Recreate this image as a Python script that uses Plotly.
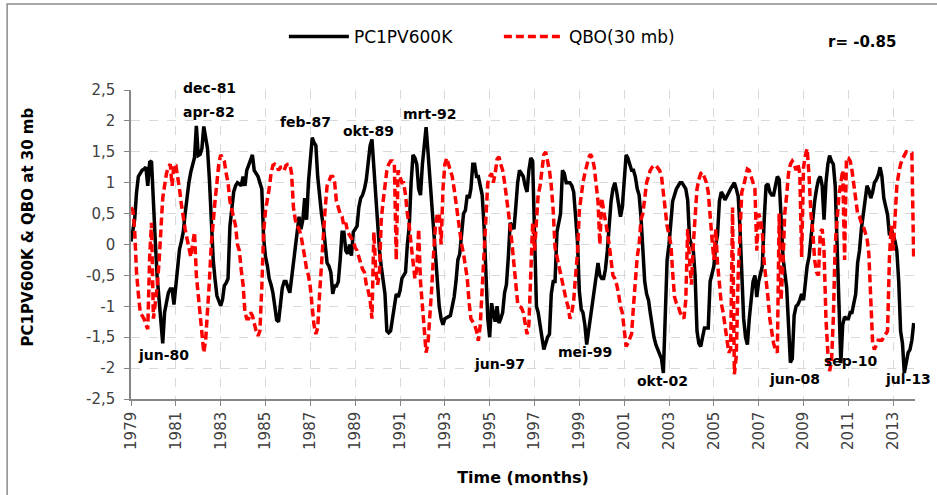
import pandas as pd
import plotly.graph_objects as go

# ---------------- data (monthly, Jan 1979 - Dec 2013) ----------------
start_month = "1979-01-01"
n_months = 420

pc1pv600k = [
    0.05, 0.2, 0.4, 0.84, 1.1, 1.15, 1.2, 1.22, 1.25, 0.95, 1.33, 1.35,      # 1979
    0.6, 0.05, -0.5, -0.9, -1.2, -1.6, -1.1, -0.9, -0.78, -0.72, -0.72, -0.97,  # 1980
    -0.67, -0.4, -0.08, 0.05, 0.2, 0.5, 0.8, 1.0, 1.17, 1.3, 1.41, 1.92,    # 1981
    1.44, 1.46, 1.55, 1.91, 1.7, 1.55, 1.06, 0.3, -0.24, -0.56, -0.83, -0.91,  # 1982
    -0.99, -0.89, -0.67, -0.62, -0.55, 0.3, 0.6, 0.85, 0.95, 1.0, 0.98, 0.95,  # 1983
    1.1, 0.95, 1.2, 1.3, 1.38, 1.45, 1.2, 1.15, 1.1, 1.0, 0.9, 0.1,          # 1984
    -0.2, -0.35, -0.55, -0.65, -0.78, -1.0, -1.22, -1.25, -1.0, -0.7, -0.6, -0.6,  # 1985
    -0.7, -0.78, -0.55, -0.3, -0.1, 0.2, 0.45, 0.25, 0.4, 0.75, 0.4, 1.0,    # 1986
    1.3, 1.73, 1.65, 1.6, 1.1, 0.75, 0.5, 0.3, 0.0, -0.3, -0.35, -0.45,      # 1987
    -0.8, -0.67, -0.67, -0.6, -0.25, 0.2, 0.2, -0.1, -0.15, 0.0, -0.18, 0.2,  # 1988
    0.25, 0.3, 0.6, 0.75, 0.8, 0.9, 1.05, 1.3, 1.6, 1.7, 1.2, 0.9,           # 1989
    0.3, -0.1, -0.35, -0.6, -0.8, -1.4, -1.43, -1.4, -1.2, -1.0, -0.8, -0.85,  # 1990
    -0.75, -0.55, -0.5, -0.45, 0.0, 0.3, 1.0, 1.45, 1.4, 1.3, 0.9, 0.8,      # 1991
    1.3, 1.6, 1.9, 1.5, 1.1, 0.8, 0.4, -0.05, -0.5, -1.0, -1.2, -1.3,        # 1992
    -1.2, -1.18, -1.17, -1.15, -1.0, -0.85, -0.6, -0.25, -0.15, 0.15, 0.5, 0.55,  # 1993
    0.8, 0.75, 0.9, 1.3, 1.3, 1.1, 1.1, 0.95, 0.8, 0.3, -0.5, -1.2,          # 1994
    -1.5, -0.95, -1.1, -1.25, -1.0, -1.27, -1.2, -1.1, -0.78, -0.65, -0.2, 0.35,  # 1995
    0.3, 0.25, 0.6, 1.0, 1.2, 1.15, 1.1, 0.95, 0.85, 1.2, 1.4, 1.35,         # 1996
    0.0, -1.0, -1.1, -1.3, -1.55, -1.7, -1.6, -1.5, -1.45, -0.8, -0.6, -0.6,  # 1997
    0.2, 0.4, 0.5, 1.2, 1.15, 1.0, 1.0, 1.0, 0.95, 0.85, 0.45, 0.05,         # 1998
    -0.75, -1.05, -1.1, -1.3, -1.62, -1.4, -1.1, -0.9, -0.7, -0.5, -0.3, -0.5,  # 1999
    -0.55, -0.55, -0.4, -0.1, 0.3, 0.7, 0.9, 1.0, 0.85, 0.6, 0.45, 0.6,      # 2000
    1.0, 1.45, 1.4, 1.3, 1.2, 1.2, 1.1, 0.9, 0.8, 0.45, 0.0, -0.6,           # 2001
    -0.8, -0.9, -1.1, -1.35, -1.5, -1.62, -1.7, -1.75, -1.85, -2.08, -1.2, -0.25,  # 2002
    0.0, 0.45, 0.7, 0.8, 0.9, 0.95, 1.0, 1.0, 0.95, 0.9, 0.72, 0.1,          # 2003
    0.0, -0.1, -0.5, -1.4, -1.6, -1.65, -1.5, -1.35, -1.35, -1.35, -0.6, -0.45,  # 2004
    -0.35, 0.0, 0.15, 0.7, 0.85, 0.8, 0.72, 0.78, 0.85, 0.9, 0.95, 1.0,      # 2005
    0.9, 0.78, 0.3, -0.4, -1.2, -1.5, -1.62, -1.2, -0.9, -0.6, -0.5, -0.85,  # 2006
    -0.6, -0.45, -0.35, 0.4, 0.95, 0.98, 0.85, 0.8, 0.8, 0.95, 1.1, 1.05,    # 2007
    0.3, -0.2, -0.45, -0.7, -1.3, -1.91, -1.85, -1.15, -1.0, -0.97, -0.9, -0.8,  # 2008
    -0.9, -0.6, -0.35, -0.2, 0.1, 0.5, 0.7, 0.9, 1.05, 1.1, 0.95, 0.4,       # 2009
    1.0, 1.3, 1.44, 1.35, 1.3, 0.95, 0.1, -0.9, -1.92, -1.3, -1.17, -1.2,    # 2010
    -1.2, -1.1, -1.1, -0.95, -0.8, -0.3, -0.1, 0.25, 0.5, 0.8, 0.95, 0.88,   # 2011
    0.75, 0.85, 1.0, 1.05, 1.12, 1.25, 1.1, 0.75, 0.6, 0.48, 0.15, 0.25,     # 2012
    0.15, 0.05, -0.1, -0.6, -1.4, -1.6, -2.08, -1.9, -1.75, -1.7, -1.55, -1.27,  # 2013
]

qbo_30mb = [
    0.6, 0.55, 0.25, -0.45, -0.8, -1.1, -1.15, -1.2, -1.3, -1.37, -0.2, 0.35,  # 1979
    -1.2, -0.95, -0.7, -0.3, 0.3, 0.75, 0.95, 1.15, 1.25, 1.3, 0.95, 1.3,    # 1980
    1.28, 1.1, 0.9, 0.65, 0.4, 0.25, 0.1, -0.05, -0.2, 0.0, 0.2, -0.5,       # 1981
    -0.85, -1.2, -1.5, -1.75, -1.55, -1.1, -0.6, 0.0, 0.4, 0.7, 1.0, 1.3,    # 1982
    1.45, 1.4, 1.35, 1.15, 1.0, 0.7, 0.55, 0.4, 0.3, 0.0, -0.1, -0.4,        # 1983
    -0.65, -1.1, -1.2, -1.2, -1.1, -1.15, -1.3, -1.4, -1.48, -1.4, -0.7, 0.2,  # 1984
    0.55, 0.7, 0.9, 1.15, 1.28, 1.3, 1.28, 1.2, 1.25, 1.25, 1.2, 1.28,       # 1985
    1.3, 1.3, 1.15, 0.6, 0.4, 0.3, 0.25, 0.15, 0.0, -0.2, -0.4, -0.5,        # 1986
    -0.7, -1.0, -1.3, -1.45, -1.35, -0.8, -0.3, 0.0, 0.6, 0.95, 1.05, 1.1,   # 1987
    1.1, 1.0, 0.7, 0.6, 0.5, 0.45, 0.3, 0.35, 0.2, 0.15, 0.1, 0.05,          # 1988
    -0.05, -0.1, -0.2, -0.3, -0.4, -0.45, -0.65, -0.75, -0.9, -1.2, 0.2, -0.4,  # 1989
    -0.65, -0.45, 0.4, 0.7, 0.95, 1.2, 1.3, 1.35, 1.35, 1.3, -0.25, 1.2,     # 1990
    1.1, 1.0, 1.0, 0.8, 0.5, 0.3, 0.0, -0.3, -0.55, -0.4, 0.25, -0.6,        # 1991
    -1.0, -1.4, -1.75, -1.6, -1.2, -0.7, -0.15, 0.3, 0.5, 0.5, 0.0, 0.9,     # 1992
    1.3, 1.4, 1.3, 1.2, 1.1, 0.9, 0.65, 0.4, 0.2, 0.0, -0.15, -0.35,         # 1993
    -0.55, -0.95, -1.2, -1.25, -1.3, -1.4, -1.56, -1.3, -0.7, -0.2, 0.6, 1.0,  # 1994
    1.1, 1.15, 1.0, 1.15, 1.38, 1.42, 1.3, 1.2, 1.0, 0.8, 0.55, 0.3,         # 1995
    0.0, -0.3, -0.6, -0.95, -1.0, -1.02, -1.1, -1.3, -1.45, -1.3, -0.5, 0.35,  # 1996
    -0.1, 0.3, 0.8, 0.95, 1.2, 1.45, 1.5, 1.35, 1.2, 0.95, 0.55, -0.05,      # 1997
    -0.2, -0.3, -0.45, -0.6, -0.75, -0.9, -1.0, -1.2, -1.1, -0.9, -0.5, -0.15,  # 1998
    0.55, 0.8, 1.0, 1.15, 1.3, 1.4, 1.46, 1.4, 1.25, 1.0, 0.7, 0.0,          # 1999
    0.75, 0.55, 0.4, 0.2, 0.0, -0.3, -0.5, -0.55, -0.65, -0.8, -1.0, -1.1,   # 2000
    -1.45, -1.65, -1.6, -1.5, -1.45, -1.0, -0.5, -0.2, 0.0, 0.4, 0.5, 0.7,   # 2001
    1.0, 1.1, 1.2, 1.25, 1.28, 1.28, 1.25, 1.2, 1.1, 0.85, 0.5, 0.3,         # 2002
    0.15, 0.0, -0.45, -0.85, -0.95, -1.0, -1.1, -1.15, -1.2, -0.9, 0.25, -0.25,  # 2003
    -0.65, 0.0, 0.5, 0.9, 1.05, 1.15, 1.17, 1.1, 1.0, 0.85, 0.4, 0.1,        # 2004
    -0.25, 0.25, -0.3, -0.7, -0.95, -1.1, -1.3, -1.55, -1.75, -1.7, 0.6, -2.1,  # 2005
    -1.8, -0.5, 0.2, 0.85, 0.95, 1.1, 1.22, 1.2, 1.1, 1.0, 0.9, -0.1,        # 2006
    0.5, 0.4, 0.2, -0.3, -0.55, -0.85, -1.2, -1.4, -1.6, -1.7, -1.75, 0.5,   # 2007
    -0.9, -0.3, 0.5, 0.8, 1.15, 1.3, 1.35, 1.3, 1.2, 1.3, 1.15, -0.2,        # 2008
    1.25, 1.45, 1.55, 1.1, 0.5, 0.2, -0.25, -0.45, -0.5, 0.2, 0.25, -0.1,    # 2009
    -1.2, -1.75, -2.05, -1.9, -1.2, 0.0, 0.4, 0.8, 1.0, 1.2, -0.25, 1.4,     # 2010
    1.4, 1.35, 1.2, 0.95, 0.75, 0.5, 0.45, 0.35, 0.3, 0.2, 0.1, -0.15,       # 2011
    -0.9, -1.6, -1.7, -1.6, -1.55, -1.55, -1.55, -1.5, -1.45, -1.4, -0.2, 0.3,  # 2012
    -0.1, 0.5, 0.95, 1.15, 1.3, 1.38, 1.45, 1.5, 1.5, 1.5, 1.48, -0.25,      # 2013
]

series_names = ["PC1PV600K", "QBO(30 mb)"]
x_tick_years = list(range(1979, 2014, 2))
y_tick_values = [-2.5, -2, -1.5, -1, -0.5, 0, 0.5, 1, 1.5, 2, 2.5]
y_tick_labels = ["-2,5", "-2", "-1,5", "-1", "-0,5", "0", "0,5", "1", "1,5", "2", "2,5"]

# extreme-event labels: text, date, y
event_labels = ["dec-81", "apr-82", "feb-87", "okt-89", "mrt-92", "jun-80",
                "jun-97", "mei-99", "okt-02", "jun-08", "sep-10", "jul-13"]
event_dates = ["1982-06-25", "1982-06-25", "1986-10-07", "1989-08-07", "1992-04-18", "1980-06-07",
               "1995-06-18", "1999-04-01", "2002-09-15", "2008-08-01", "2011-02-01", "2013-09-01"]
event_y = [2.5, 2.14, 1.98, 1.84, 2.11, -1.79, -1.93, -1.74, -2.21, -2.18, -1.89, -2.18]
event_yshift = [2, 0, 0, 0, 0, 0, 0, 0, 0, 0, 0, 0]
corr_text = "r= -0.85"
y_title = "PC1PV600K & QBO at 30 mb"
x_title = "Time (months)"

# ---------------- figure ----------------
dates = pd.date_range(start_month, periods=n_months, freq="MS")

fig = go.Figure()
fig.add_trace(go.Scatter(x=dates, y=pc1pv600k, mode="lines", name=series_names[0],
                         line=dict(color="black", width=3.5)))
fig.add_trace(go.Scatter(x=dates, y=qbo_30mb, mode="lines", name=series_names[1],
                         line=dict(color="#FF0000", width=3.5, dash="8px,4px")))

for txt, d, yv, ys in zip(event_labels, event_dates, event_y, event_yshift):
    fig.add_annotation(x=d, y=yv, xref="x", yref="y", text=txt, showarrow=False, yshift=ys,
                       font=dict(family="DejaVu Sans", size=14, color="black", weight="bold"))

fig.add_annotation(x=0.978, y=1.155, xref="paper", yref="paper", text=corr_text, showarrow=False,
                   xanchor="right", yanchor="middle",
                   font=dict(family="DejaVu Sans", size=15, color="black", weight="bold"))

# y-axis title (placed slightly above the plot centre, as in the original)
fig.add_annotation(x=-0.132, y=0.557, xref="paper", yref="paper", text=y_title, showarrow=False,
                   textangle=-90, xanchor="center", yanchor="middle",
                   font=dict(family="DejaVu Sans", size=15, color="black", weight="bold"))

# chart-area border (right / bottom edges fall outside the image)
fig.add_shape(type="rect", xref="paper", yref="paper", x0=-0.158, x1=1.2, y0=-0.5, y1=1.278,
              line=dict(color="#8C8C8C", width=1.5), fillcolor="rgba(0,0,0,0)", layer="below")

fig.update_layout(
    width=937, height=495,
    margin=dict(l=131, r=22, t=90, b=96),
    paper_bgcolor="white", plot_bgcolor="white",
    font=dict(family="DejaVu Sans", size=15, color="#404040"),
    showlegend=True,
    legend=dict(orientation="h", x=0.195, y=1.172, xanchor="left", yanchor="middle",
                font=dict(family="DejaVu Sans", size=17, color="black"),
                bgcolor="rgba(0,0,0,0)", itemwidth=60, entrywidth=140),
)

fig.update_xaxes(
    type="date",
    range=["1979-01-01", "2013-12-22"],
    tickmode="array",
    tickvals=[f"{y}-01-01" for y in x_tick_years],
    ticktext=[str(y) for y in x_tick_years],
    tickangle=-90,
    tickfont=dict(family="DejaVu Sans", size=15, color="#404040"),
    ticks="outside", ticklen=5, tickcolor="#868686",
    showline=True, linecolor="#868686", linewidth=1.5,
    showgrid=True, gridcolor="#D9D9D9", griddash="dash", gridwidth=1,
    zeroline=False,
    title=dict(text=f"<b>{x_title}</b>", standoff=23,
               font=dict(family="DejaVu Sans", size=16, color="black")),
)

fig.update_yaxes(
    range=[-2.5, 2.5],
    tickmode="array", tickvals=y_tick_values, ticktext=y_tick_labels,
    tickfont=dict(family="DejaVu Sans", size=15, color="#404040"),
    ticks="outside", ticklen=5, tickcolor="#868686", ticklabelstandoff=6,
    showline=True, linecolor="#868686", linewidth=1.5,
    showgrid=True, gridcolor="#D9D9D9", griddash="dash", gridwidth=1,
    zeroline=False,
)

fig.write_html("out.html")
